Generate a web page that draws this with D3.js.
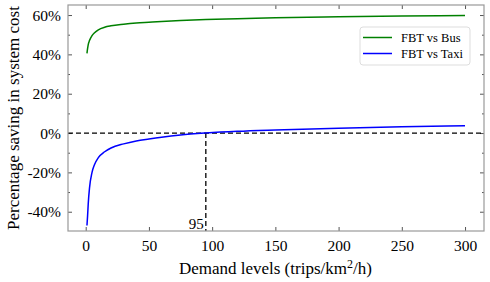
<!DOCTYPE html>
<html>
<head>
<meta charset="utf-8">
<script src="https://cdn.jsdelivr.net/npm/d3@7"></script>
<style>
  body { margin: 0; background: #fff; }
  text { font-family: "Liberation Serif", "DejaVu Serif", serif; fill: #000; }
</style>
</head>
<body>
<div id="chart"></div>
<script>
var svgWidth = 490;
var svgHeight = 282;
var serif = '"Liberation Serif", "DejaVu Serif", serif';

var margin = { top: 5, right: 6, bottom: 51, left: 68 };
var width = svgWidth - margin.left - margin.right;
var height = svgHeight - margin.top - margin.bottom;

// values
var demand = [1, 1.5, 2, 3, 5, 7, 10, 15, 20, 30, 40, 50, 60, 75, 95, 120, 150, 200, 250, 300];
var fbtVsTaxi = [-47, -42, -36, -28, -20, -16, -12.5, -9.5, -7.6, -5.5, -4, -3, -2.1, -1, 0, 0.9, 1.6, 2.5, 3.2, 3.7];
var fbtVsBus = [40.5, 43, 45, 47, 49.5, 51, 52.5, 53.8, 54.5, 55.3, 55.9, 56.3, 56.7, 57.2, 57.7, 58.1, 58.6, 59.1, 59.5, 59.8];
var xTicks = [0, 50, 100, 150, 200, 250, 300];
var yTicks = [-40, -20, 0, 20, 40, 60];
var breakEven = 95;

var series = [
  { name: "FBT vs Bus", values: fbtVsBus, color: "#008000" },
  { name: "FBT vs Taxi", values: fbtVsTaxi, color: "#0000ff" }
];

var svg = d3.select("#chart")
  .append("svg")
  .attr("width", svgWidth)
  .attr("height", svgHeight)
  .style("font-family", serif);

var chartGroup = svg.append("g").attr("transform", `translate(${margin.left}, ${margin.top})`);

var x = d3.scaleLinear().domain([-14, 315]).range([0, width]);
var y = d3.scaleLinear().domain([-49.8, 65.1]).range([height, 0]);

// axes, ticks pointing inward on all four sides
function styleAxis(g) {
  g.attr("font-family", serif).attr("font-size", null);
  g.select(".domain").remove();
  g.selectAll(".tick line").attr("stroke", "#555");
  g.selectAll(".tick text")
    .style("font-family", serif)
    .style("font-size", "15.5px");
}

chartGroup.append("g")
  .attr("transform", `translate(0, ${height})`)
  .call(d3.axisBottom(x).tickValues(xTicks).tickSizeInner(-4).tickSizeOuter(0).tickPadding(9))
  .call(styleAxis);

chartGroup.append("g")
  .call(d3.axisTop(x).tickValues(xTicks).tickSizeInner(-4).tickSizeOuter(0).tickFormat(""))
  .call(styleAxis);

chartGroup.append("g")
  .call(d3.axisLeft(y).tickValues(yTicks).tickSizeInner(-4).tickSizeOuter(0).tickPadding(7)
    .tickFormat(function(d) { return d + "%"; }))
  .call(styleAxis);

chartGroup.append("g")
  .attr("transform", `translate(${width}, 0)`)
  .call(d3.axisRight(y).tickValues(yTicks).tickSizeInner(-4).tickSizeOuter(0).tickFormat(""))
  .call(styleAxis);

// minor y ticks
var minorY = [-30, -10, 10, 30, 50];
chartGroup.append("g")
  .call(d3.axisLeft(y).tickValues(minorY).tickSizeInner(-2).tickSizeOuter(0).tickFormat(""))
  .call(styleAxis);
chartGroup.append("g")
  .attr("transform", `translate(${width}, 0)`)
  .call(d3.axisRight(y).tickValues(minorY).tickSizeInner(-2).tickSizeOuter(0).tickFormat(""))
  .call(styleAxis);

// reference lines
chartGroup.append("line")
  .attr("x1", 0).attr("x2", width)
  .attr("y1", y(0)).attr("y2", y(0))
  .attr("stroke", "#000").attr("stroke-width", 1.3)
  .attr("stroke-dasharray", "5,3");

chartGroup.append("line")
  .attr("x1", x(breakEven)).attr("x2", x(breakEven))
  .attr("y1", y(0)).attr("y2", height)
  .attr("stroke", "#000").attr("stroke-width", 1.3)
  .attr("stroke-dasharray", "5,3");

chartGroup.append("text")
  .attr("x", x(breakEven) - 2)
  .attr("y", height - 2)
  .attr("text-anchor", "end")
  .style("font-size", "15px")
  .text(breakEven);

// curves
var line = d3.line()
  .x(function(d, i) { return x(demand[i]); })
  .y(function(d) { return y(d); })
  .curve(d3.curveMonotoneX);

series.forEach(function(s) {
  chartGroup.append("path")
    .datum(s.values)
    .attr("fill", "none")
    .attr("stroke", s.color)
    .attr("stroke-width", 1.5)
    .attr("d", line);
});

// frame
chartGroup.append("rect")
  .attr("width", width).attr("height", height)
  .attr("fill", "none")
  .attr("stroke", "#999")
  .attr("stroke-width", 1.2);

// legend
var legend = svg.append("g").attr("transform", "translate(360, 27)");
legend.append("rect")
  .attr("width", 110).attr("height", 38)
  .attr("rx", 3)
  .attr("fill", "#fff")
  .attr("stroke", "#ddd");

series.forEach(function(s, i) {
  var ly = 10.5 + i * 16;
  legend.append("line")
    .attr("x1", 3).attr("x2", 32)
    .attr("y1", ly).attr("y2", ly)
    .attr("stroke", s.color).attr("stroke-width", 1.5);
  legend.append("text")
    .attr("x", 41).attr("y", ly + 4)
    .style("font-size", "12.5px")
    .text(s.name);
});

// axis labels
svg.append("text")
  .attr("x", margin.left + x(150))
  .attr("y", 274)
  .attr("text-anchor", "middle")
  .style("font-size", "17px")
  .html('Demand levels (trips/km<tspan dy="-6" font-size="12px">2</tspan><tspan dy="6">/h)</tspan>');

svg.append("text")
  .attr("transform", "rotate(-90)")
  .attr("x", -(margin.top + height / 2))
  .attr("y", 19)
  .attr("text-anchor", "middle")
  .style("font-size", "17px")
  .text("Percentage saving in system cost");
</script>
</body>
</html>
